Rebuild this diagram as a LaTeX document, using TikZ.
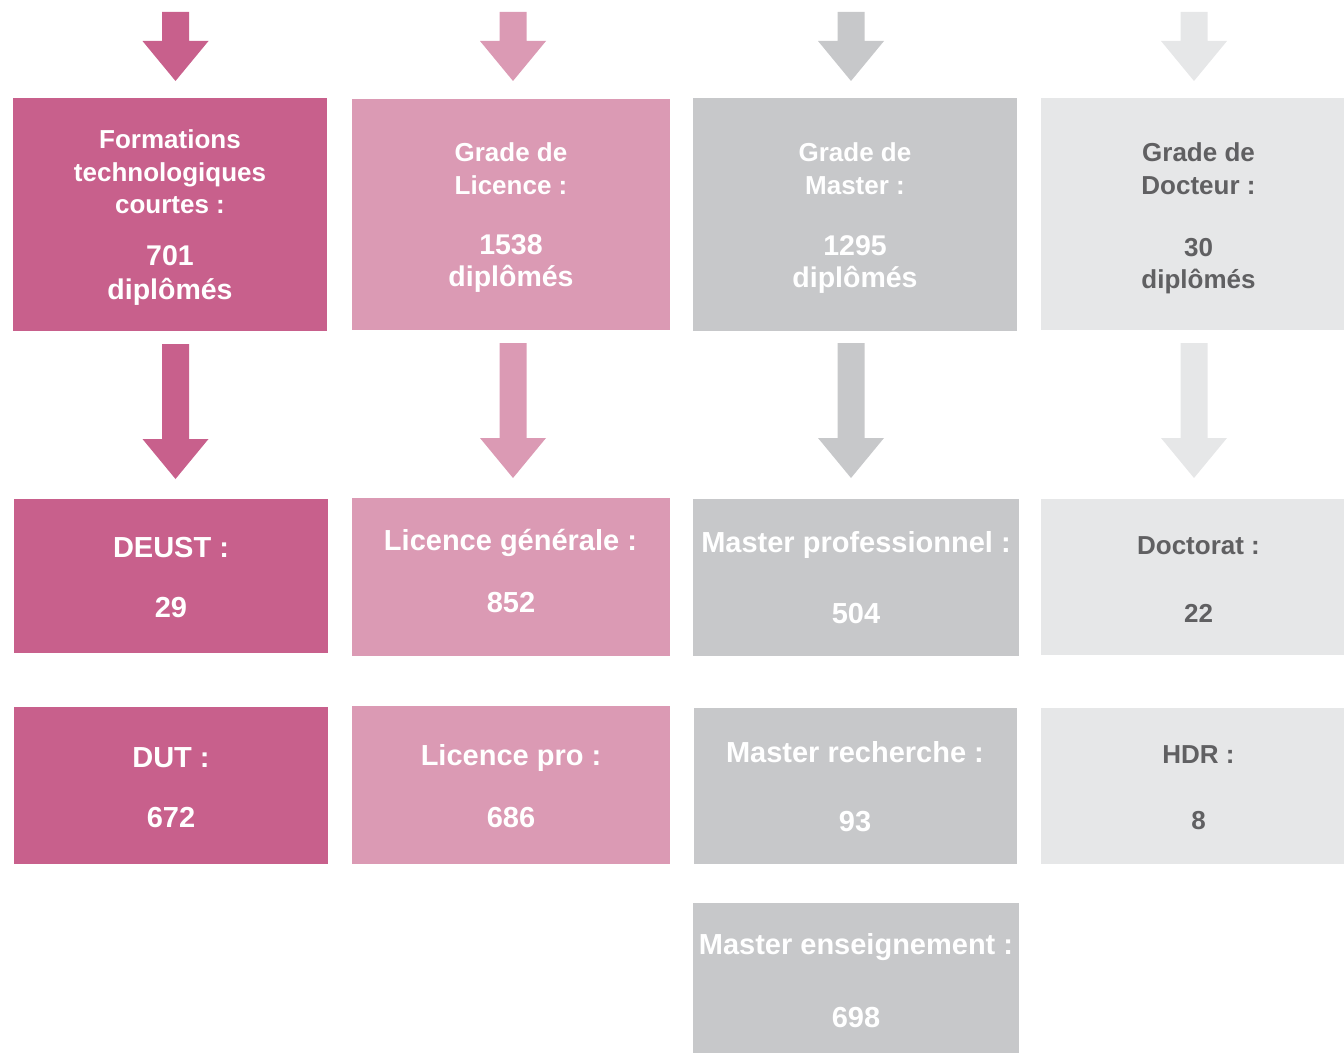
\documentclass[tikz,border=0pt]{standalone}
\usepackage{fontspec}
\setmainfont{Liberation Sans}
\usetikzlibrary{calc}
\definecolor{RoseFonce}{RGB}{200, 96, 140}
\definecolor{RoseClair}{RGB}{219, 154, 180}
\definecolor{GrisMoyen}{RGB}{199, 200, 202}
\definecolor{GrisClair}{RGB}{230, 231, 232}
\definecolor{GrisTexte}{RGB}{96, 96, 98}

% block arrow: colour, start of the shaft, tip
\newcommand{\blockarrow}[3]{%
  \fill[#1] let \p1=(#2), \p2=(#3) in
    (\x1-13.5pt,\y1) -- (\x1+13.5pt,\y1) -- (\x2+13.5pt,\y2+40pt) -- (\x2+33pt,\y2+40pt)
    -- (\x2,\y2) -- (\x2-33pt,\y2+40pt) -- (\x2-13.5pt,\y2+40pt) -- cycle;}

\begin{document}
\begin{tikzpicture}[x=1pt, y=1pt,
    bloc/.style={fill=#1, inner sep=0pt, outer sep=0pt},
    txt/.style={anchor=base, inner sep=0pt, text=white, font=\bfseries\fontsize{#1}{#1}\selectfont}]
    \useasboundingbox (0,0) rectangle (1344,-1054);

    % grades
    \node[bloc=RoseFonce, minimum width=314, minimum height=233] (g1) at (170,-214.5) {};
    \node[bloc=RoseClair, minimum width=318, minimum height=231] (g2) at (511,-214.5) {};
    \node[bloc=GrisMoyen, minimum width=324, minimum height=233] (g3) at (855,-214.5) {};
    \node[bloc=GrisClair, minimum width=315, minimum height=232] (g4) at (1198.5,-214) {};

    % diplomes
    \node[bloc=RoseFonce, minimum width=314, minimum height=154] (a1) at (171,-576) {};
    \node[bloc=RoseClair, minimum width=318, minimum height=158] (a2) at (511,-577) {};
    \node[bloc=GrisMoyen, minimum width=326, minimum height=157] (a3) at (856,-577.5) {};
    \node[bloc=GrisClair, minimum width=315, minimum height=156] (a4) at (1198.5,-577) {};
    \node[bloc=RoseFonce, minimum width=314, minimum height=157] (b1) at (171,-785.5) {};
    \node[bloc=RoseClair, minimum width=318, minimum height=158] (b2) at (511,-785) {};
    \node[bloc=GrisMoyen, minimum width=323, minimum height=156] (b3) at (855.5,-786) {};
    \node[bloc=GrisClair, minimum width=315, minimum height=156] (b4) at (1198.5,-786) {};
    \node[bloc=GrisMoyen, minimum width=326, minimum height=150] (c3) at (856,-978) {};

    % texts of the grades
    \node[txt=26] (g1l1) at (170,-149) {Formations};
    \node[txt=26] (g1l2) at (170,-181) {technologiques};
    \node[txt=26] (g1l3) at (170,-213) {courtes :};
    \node[txt=28.5] (g1n) at (170,-265) {701};
    \node[txt=28.5] (g1d) at (170,-299) {diplômés};

    \node[txt=26] (g2l1) at (511,-161) {Grade de};
    \node[txt=26] (g2l2) at (511,-194) {Licence :};
    \node[txt=28.5] (g2n) at (511,-254) {1538};
    \node[txt=28.5] (g2d) at (511,-286) {diplômés};

    \node[txt=26] (g3l1) at (855,-161) {Grade de};
    \node[txt=26] (g3l2) at (855,-194) {Master :};
    \node[txt=28.5] (g3n) at (855,-255) {1295};
    \node[txt=28.5] (g3d) at (855,-287) {diplômés};

    \node[txt=26, text=GrisTexte] (g4l1) at (1198.5,-161) {Grade de};
    \node[txt=26, text=GrisTexte] (g4l2) at (1198.5,-194) {Docteur :};
    \node[txt=26, text=GrisTexte] (g4n) at (1198.5,-256) {30};
    \node[txt=26, text=GrisTexte] (g4d) at (1198.5,-288) {diplômés};

    % texts of the diplomas
    \node[txt=29] (a1l) at (171,-557) {DEUST :};
    \node[txt=29] (a1n) at (171,-617) {29};
    \node[txt=29] (b1l) at (171,-767) {DUT :};
    \node[txt=29] (b1n) at (171,-827) {672};

    \node[txt=29] (a2l) at (510.5,-550) {Licence générale :};
    \node[txt=29] (a2n) at (511,-612) {852};
    \node[txt=29] (b2l) at (511,-765) {Licence pro :};
    \node[txt=29] (b2n) at (511,-827) {686};

    \node[txt=29] (a3l) at (856,-552) {Master professionnel :};
    \node[txt=29] (a3n) at (856,-623) {504};
    \node[txt=29] (b3l) at (855,-762) {Master recherche :};
    \node[txt=29] (b3n) at (855,-831) {93};
    \node[txt=29] (c3l) at (856,-954) {Master enseignement :};
    \node[txt=29] (c3n) at (856,-1027) {698};

    \node[txt=26, text=GrisTexte] (a4l) at (1198.5,-554) {Doctorat :};
    \node[txt=26, text=GrisTexte] (a4n) at (1198.5,-622) {22};
    \node[txt=26, text=GrisTexte] (b4l) at (1198.5,-763) {HDR :};
    \node[txt=26, text=GrisTexte] (b4n) at (1198.5,-829) {8};

    % arrows
    \coordinate (in1) at (175.5,-12);
    \coordinate (in2) at (513,-12);
    \coordinate (in3) at (851,-12);
    \coordinate (in4) at (1194,-12);
    \blockarrow{RoseFonce}{in1}{$(in1 |- g1.north)+(0,17)$}
    \blockarrow{RoseClair}{in2}{$(in2 |- g2.north)+(0,18)$}
    \blockarrow{GrisMoyen}{in3}{$(in3 |- g3.north)+(0,17)$}
    \blockarrow{GrisClair}{in4}{$(in4 |- g4.north)+(0,17)$}
    \blockarrow{RoseFonce}{$(in1 |- g1.south)+(0,-13)$}{$(in1 |- a1.north)+(0,20)$}
    \blockarrow{RoseClair}{$(in2 |- g2.south)+(0,-13)$}{$(in2 |- a2.north)+(0,20)$}
    \blockarrow{GrisMoyen}{$(in3 |- g3.south)+(0,-12)$}{$(in3 |- a3.north)+(0,21)$}
    \blockarrow{GrisClair}{$(in4 |- g4.south)+(0,-13)$}{$(in4 |- a4.north)+(0,21)$}
\end{tikzpicture}
\end{document}
